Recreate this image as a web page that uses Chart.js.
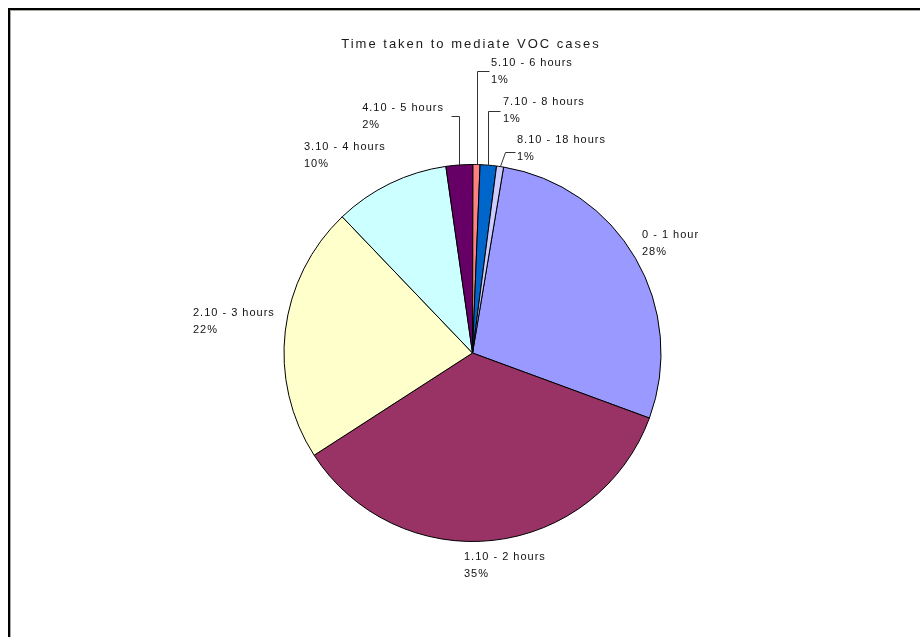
<!DOCTYPE html>
<html>
<head>
<meta charset="utf-8">
<script src="https://cdn.jsdelivr.net/npm/chart.js@4.4.1/dist/chart.umd.min.js"></script>
<style>
  html, body { margin: 0; padding: 0; background: #fff; overflow: hidden; }
  #frame {
    position: absolute; left: 8px; top: 8px; width: 940px; height: 660px;
    border-left: 2px solid #000; border-top: 2px solid #000;
    box-shadow: inset 1px 1px 0 #a8a89c;
  }
  #c { position: absolute; left: 0; top: 0; }
</style>
</head>
<body>
<div id="frame"></div>
<canvas id="c" width="920" height="637"></canvas>
<script>
const title = 'Time taken to mediate VOC cases';
const categories = ['0 - 1 hour', '1.10 - 2 hours', '2.10 - 3 hours', '3.10 - 4 hours',
  '4.10 - 5 hours', '5.10 - 6 hours', '7.10 - 8 hours', '8.10 - 18 hours'];
const shares = [28.0, 35.3, 22.0, 9.9, 2.3, 0.6, 1.4, 0.6];
const sliceColors = ['#9999FF', '#993366', '#FFFFCC', '#CCFFFF', '#660066', '#FF8080', '#0066CC', '#CCCCFF'];

// label placement (text left / line-1 middle), small slices get a leader line
const labelSpots = [
  { x: 642, y: 235 },
  { x: 464, y: 557 },
  { x: 193, y: 313 },
  { x: 304, y: 147 },
  { x: 444, y: 108, right: true, elbowY: 116, endX: 451 },
  { x: 491, y: 63, elbowY: 71, endX: 489 },
  { x: 503, y: 102, elbowY: 111, endX: 500 },
  { x: 517, y: 140, elbowY: 152, endX: 515, slant: 5 },
];

const total = shares.reduce((a, b) => a + b, 0);

const pieLabels = {
  id: 'pieLabels',
  afterDatasetsDraw(chart) {
    const ctx = chart.ctx;
    const arcs = chart.getDatasetMeta(0).data;
    ctx.save();

    // title
    ctx.fillStyle = '#1a1a1a';
    ctx.font = '13px "Liberation Sans", Arial, sans-serif';
    ctx.letterSpacing = '2px';
    ctx.textAlign = 'center';
    ctx.textBaseline = 'middle';
    ctx.fillText(title, 471, 44);

    ctx.font = '11px "Liberation Sans", Arial, sans-serif';
    ctx.letterSpacing = '1px';
    ctx.textAlign = 'left';

    arcs.forEach((arc, i) => {
      const spot = labelSpots[i];
      const p = arc.getProps(['x', 'y', 'startAngle', 'endAngle', 'outerRadius'], true);
      const mid = (p.startAngle + p.endAngle) / 2;
      const rx = p.x + Math.cos(mid) * p.outerRadius;
      const ry = p.y + Math.sin(mid) * p.outerRadius;

      if (spot.elbowY !== undefined) {
        const kx = Math.round(rx) + 0.5 + (spot.slant || 0);
        ctx.strokeStyle = '#333';
        ctx.lineWidth = 1;
        ctx.beginPath();
        ctx.moveTo(Math.round(rx) + 0.5, ry);
        ctx.lineTo(kx, spot.elbowY + 0.5);
        ctx.lineTo(spot.endX + 0.5, spot.elbowY + 0.5);
        ctx.stroke();
      }

      const lines = [categories[i], Math.round(shares[i] / total * 100) + '%'];
      let x = spot.x;
      if (spot.right) {
        const w = Math.max(...lines.map(t => ctx.measureText(t).width));
        x = spot.x - w;
      }
      ctx.fillStyle = '#111';
      lines.forEach((t, k) => ctx.fillText(t, x, spot.y + k * 16.5));
    });
    ctx.restore();
  }
};

new Chart(document.getElementById('c'), {
  type: 'pie',
  data: {
    labels: categories,
    datasets: [{
      data: shares,
      backgroundColor: sliceColors,
      borderColor: '#000',
      borderWidth: 1,
    }],
  },
  options: {
    responsive: false,
    animation: false,
    devicePixelRatio: 1,
    rotation: 9.5,
    layout: { padding: { top: 164, bottom: 95, left: 283.5, right: 258.5 } },
    plugins: {
      legend: { display: false },
      tooltip: { enabled: false },
      title: { display: false },
    },
  },
  plugins: [pieLabels],
});
</script>
</body>
</html>
